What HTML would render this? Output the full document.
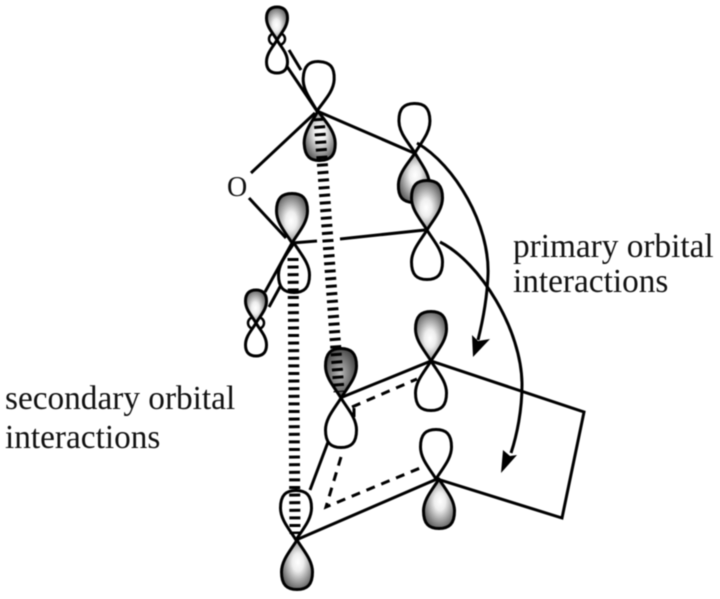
<!DOCTYPE html>
<html><head><meta charset="utf-8"><style>
html,body{margin:0;padding:0;background:#fff}
svg{display:block;filter:blur(0.4px)}
text{font-family:"Liberation Serif",serif;font-size:33.3px;fill:#111}
</style></head><body>
<svg width="720" height="599" viewBox="0 0 720 599" xmlns="http://www.w3.org/2000/svg">
<defs>
<radialGradient id="g" cx="0.47" cy="0.55" r="0.6"><stop offset="0" stop-color="#fff"/><stop offset="0.3" stop-color="#eee"/><stop offset="1" stop-color="#555"/></radialGradient>
<radialGradient id="d" cx="0.47" cy="0.5" r="0.55"><stop offset="0" stop-color="#bbb"/><stop offset="1" stop-color="#444"/></radialGradient>
<path id="l" d="M0,0 C-6,-10 -15.500,-20 -15.500,-32 C-15.500,-45 -10,-49.500 0,-49.500 C10,-49.500 15.500,-45 15.500,-32 C15.500,-20 6,-10 0,0Z" stroke="#000" stroke-width="3" stroke-linejoin="round"/>
<path id="sl" d="M0,0 C-4,-7 -10.500,-13 -10.500,-22 C-10.500,-30 -6,-33 0,-33 C6,-33 10.500,-30 10.500,-22 C10.500,-13 4,-7 0,0Z" stroke="#000" stroke-width="3" stroke-linejoin="round"/>
</defs>
<g stroke="#000" stroke-width="3" fill="none">
<path d="M317,111 L286,65 M289,50 L301,70 M315,113 L251,173 M317,111 L414,153 M249,198 L286,238 M292,243 L317,241 M340,239 L425,230 M292,243 L265,292 M281,285 L269,307 M340,398 L431,361 L584,412 L562,518 L437,479 L296,540 M310,490 L328,442"/>
<path d="M352,407 L417,379 M354,408 L354,417 M341,457 L326,507 L425,466" stroke-dasharray="9 7"/>
</g>
<g fill="#fff">
<ellipse cx="277" cy="39" rx="8" ry="6.500" stroke="#000" stroke-width="2.500"/>
<use href="#sl" transform="translate(277,40) rotate(180)"/>
</g>
<use href="#sl" transform="translate(277,40)" fill="url(#g)"/>
<use href="#l" transform="translate(317,111) rotate(3)" fill="#fff"/>
<use href="#l" transform="translate(318,111) rotate(177)" fill="url(#g)"/>
<use href="#l" transform="translate(415,153) rotate(-1)" fill="#fff"/>
<use href="#l" transform="translate(415,153) rotate(182)" fill="url(#g)"/>
<use href="#l" transform="translate(427,230)" fill="url(#g)"/>
<use href="#l" transform="translate(427,230) rotate(180)" fill="#fff"/>
<use href="#l" transform="translate(292,243)" fill="url(#g)"/>
<use href="#l" transform="translate(294,243) rotate(180)" fill="#fff"/>
<g fill="#fff">
<ellipse cx="256" cy="323" rx="8" ry="6.500" stroke="#000" stroke-width="2.500"/>
<use href="#sl" transform="translate(256,323) rotate(180)"/>
</g>
<use href="#sl" transform="translate(256,323)" fill="url(#g)"/>
<use href="#l" transform="translate(341,398)" fill="url(#d)"/>
<use href="#l" transform="translate(341,398) rotate(180)" fill="#fff"/>
<use href="#l" transform="translate(431,361)" fill="url(#g)"/>
<use href="#l" transform="translate(431,361) rotate(180)" fill="#fff"/>
<use href="#l" transform="translate(436,479)" fill="#fff"/>
<use href="#l" transform="translate(439,479) rotate(180)" fill="url(#g)"/>
<use href="#l" transform="translate(296,540)" fill="#fff"/>
<use href="#l" transform="translate(297,540) rotate(180)" fill="url(#g)"/>
<path d="M293,258 L295,534" stroke="#000" stroke-width="11" stroke-dasharray="3 4.600" fill="none"/>
<path d="M319,118 L339,392" stroke="#000" stroke-width="11" stroke-dasharray="3 4.600" fill="none"/>
<path d="M417,143 C455,165 490,225 488,275 C487,300 483,320 478,340" stroke="#000" stroke-width="3" fill="none"/>
<path d="M473,357 L472,335 L478,341 L490,339 Z" fill="#000"/>
<path d="M440,242 C480,262 522,330 522,385 C522,410 517,435 511,453" stroke="#000" stroke-width="3" fill="none"/>
<path d="M501,473 L503,450 L510,456 L517,455 Z" fill="#000"/>
<text x="227" y="196" style="font-size:28px">O</text>
<text x="513" y="257">primary orbital</text>
<text x="513" y="292">interactions</text>
<text x="5" y="409">secondary orbital</text>
<text x="5" y="448">interactions</text>
</svg>
</body></html>
